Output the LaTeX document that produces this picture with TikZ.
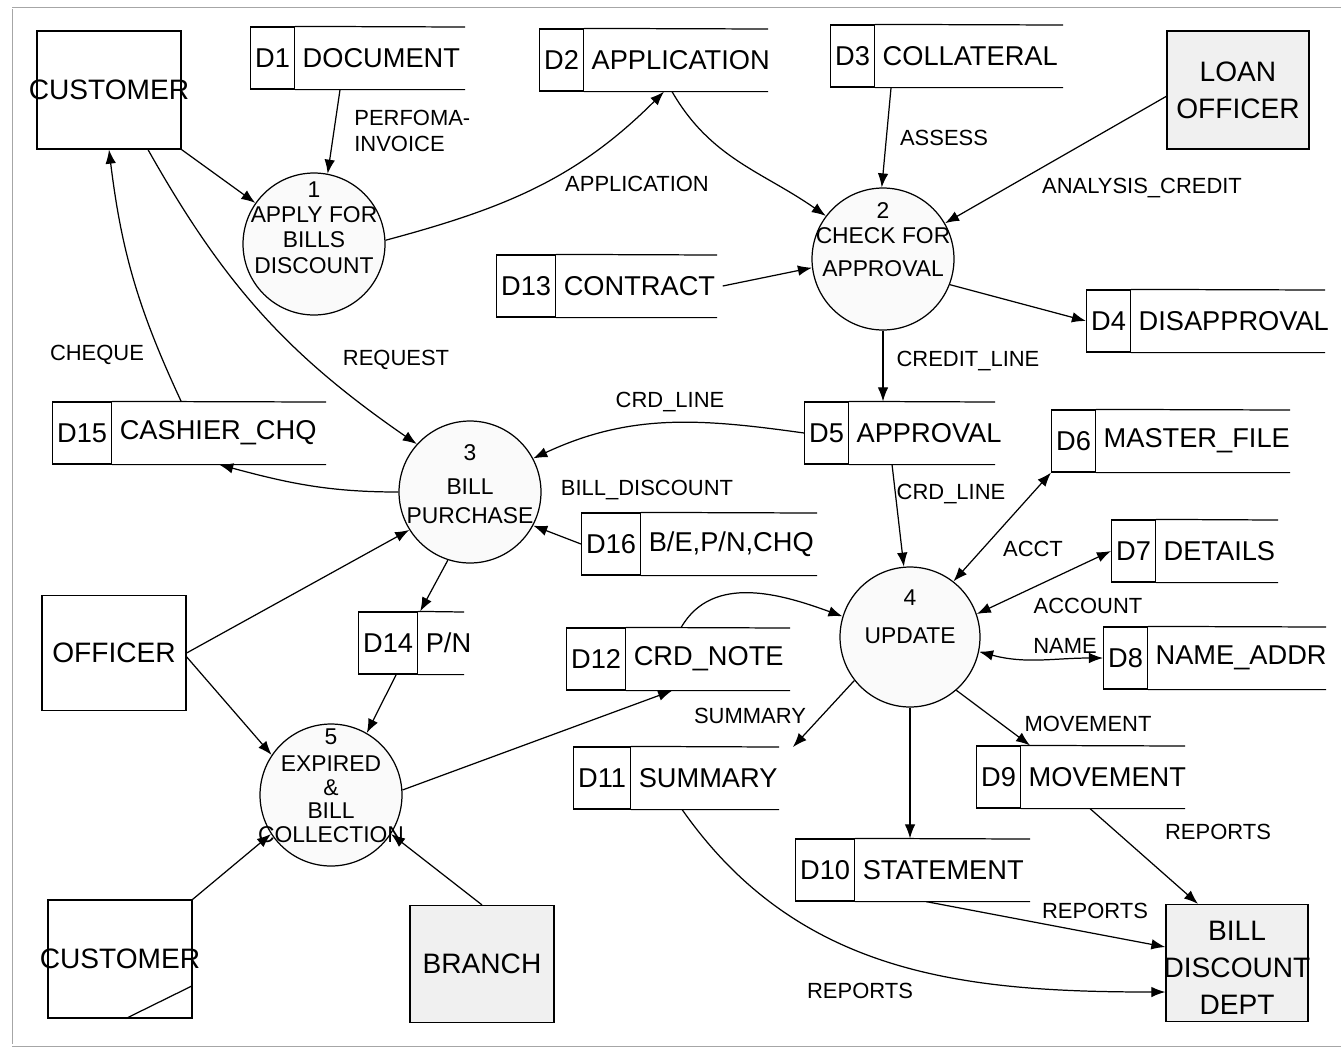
\documentclass[tikz,border=0pt]{standalone}
\usepackage{fontspec}
\setmainfont{Liberation Sans}
\usetikzlibrary{positioning}
\usetikzlibrary{arrows.meta}

% data store: name, left x, centre y, id, text, right end of the lines
\newcommand{\dstore}[6]{%
  \node [sid, anchor=west] (#1) at (#2,#3) {#4};
  \node [stxt, right=0pt of #1] (#1t) {#5};
  \coordinate (#1r) at (#6,#3-31);
  \draw (#1.north east) -- (#1r) (#1.south east) -- (#1.south east -| #1r);
}

\begin{document}
\begin{tikzpicture}[>={Latex[length=8pt,width=6pt]}, x=0.02cm, y=-0.02cm, line width=0.7pt]
    \tikzset{entity/.style= {draw, rectangle, minimum width=2.88cm, minimum height=2.36cm},
             grayfill/.style= {fill=gray!12},
             etext/.style= {align=center, font=\fontsize{16}{21}\selectfont},
             proc/.style= {draw, circle, minimum size=2.84cm, fill=gray!4},
             ptext/.style= {align=center, font=\fontsize{13}{14.5}\selectfont},
             sid/.style= {draw, rectangle, minimum height=1.24cm, inner xsep=0.09cm, inner ysep=0pt, font=\fontsize{15.5}{18}\selectfont},
             stxt/.style= {rectangle, minimum height=1.24cm, inner xsep=0.14cm, inner ysep=0pt, font=\fontsize{15.5}{18}\selectfont},
             lbl/.style= {inner sep=1pt, font=\fontsize{12.5}{14.5}\selectfont},
            }
    \useasboundingbox (0,0) rectangle (1341,1049);

    % page frame
    \draw[gray!70, line width=0.5pt] (12,7) -- (1341,7) (12,9) -- (12,1044) (12,1046) -- (1341,1046);

    % external entities
    \node [entity, label={[etext]center:CUSTOMER}] (cust1) at (109,90) {};
    \node [entity, grayfill, minimum width=2.84cm, label={[etext]center:{LOAN\\OFFICER}}] (loan) at (1238,90) {};
    \node [entity, minimum height=2.3cm, label={[etext]center:OFFICER}] (off) at (114,653) {};
    \node [entity, label={[etext]center:CUSTOMER}] (cust2) at (120,959) {};
    \draw ([xshift=-1.34cm]cust2.south east) -- ([yshift=0.66cm]cust2.south east);
    \node [entity, grayfill, minimum height=2.34cm, label={[etext]center:BRANCH}] (branch) at (482,964) {};
    \node [entity, grayfill, minimum width=2.84cm, minimum height=2.34cm, label={[etext, yshift=-0.09cm]center:{BILL\\DISCOUNT\\DEPT}}] (bdd) at (1237,963) {};

    % processes
    \node [proc, label={[ptext, yshift=0.33cm]center:{1\\APPLY FOR\\BILLS\\DISCOUNT}}] (p1) at (314,244) {};
    \node [proc, label={[ptext, yshift=0.39cm]center:{2\\CHECK FOR\\[4pt]APPROVAL}}] (p2) at (883,259) {};
    \node [proc, label={[ptext, yshift=0.16cm]center:{3\\[5pt]BILL\\[2pt]PURCHASE}}] (p3) at (470,492) {};
    \node [proc, minimum size=2.8cm, label={[ptext, yshift=0.41cm]center:{4\\[7pt]UPDATE}}] (p4) at (910,637) {};
    \node [proc, label={[ptext, yshift=0.19cm]center:{5\\[1pt]EXPIRED\\[-1pt]\&\\[-1pt]BILL\\[-1pt]COLLECTION}}] (p5) at (331,795) {};

    % data stores
    \dstore{d1}{250}{58}{D1}{DOCUMENT}{465}
    \dstore{d2}{539}{60}{D2}{APPLICATION}{768}
    \dstore{d3}{830}{56}{D3}{COLLATERAL}{1063}
    \dstore{d4}{1086}{321}{D4}{DISAPPROVAL}{1325}
    \dstore{d13}{496}{286}{D13}{CONTRACT}{717}
    \dstore{d15}{52}{433}{D15}{CASHIER\_CHQ}{326}
    \dstore{d5}{804}{433}{D5}{APPROVAL}{995}
    \dstore{d6}{1051}{441}{D6}{MASTER\_FILE}{1290}
    \dstore{d16}{581}{544}{D16}{B/E,P/N,CHQ}{817}
    \dstore{d7}{1111}{551}{D7}{DETAILS}{1278}
    \dstore{d14}{358}{643}{D14}{P/N}{464}
    \dstore{d12}{566}{659}{D12}{CRD\_NOTE}{790}
    \dstore{d8}{1103}{658}{D8}{NAME\_ADDR}{1326}
    \dstore{d11}{573}{778}{D11}{SUMMARY}{779}
    \dstore{d9}{976}{777}{D9}{MOVEMENT}{1185}
    \dstore{d10}{795}{870}{D10}{STATEMENT}{1030}

    % flow labels
    \node [lbl, align=left, anchor=west] (lperf) at (352,131) {PERFOMA-\\INVOICE};
    \node [lbl] (lapp) at (637,184) {APPLICATION};
    \node [lbl] (lass) at (944,138) {ASSESS};
    \node [lbl] (lana) at (1142,188) {ANALYSIS\_CREDIT};
    \node [lbl] (lchq) at (97,355) {CHEQUE};
    \node [lbl] (lreq) at (396,360) {REQUEST};
    \node [lbl] (lcl) at (968,361) {CREDIT\_LINE};
    \node [lbl] (lcrd1) at (670,402) {CRD\_LINE};
    \node [lbl] (lbd) at (647,490) {BILL\_DISCOUNT};
    \node [lbl] (lcrd2) at (951,494) {CRD\_LINE};
    \node [lbl] (lacct) at (1033,549) {ACCT};
    \node [lbl] (lacc) at (1088,606) {ACCOUNT};
    \node [lbl] (lname) at (1065,646) {NAME};
    \node [lbl] (lmov) at (1088,724) {MOVEMENT};
    \node [lbl] (lsum) at (750,716) {SUMMARY};
    \node [lbl] (lrep1) at (1218,832) {REPORTS};
    \node [lbl] (lrep2) at (1095,911) {REPORTS};
    \node [lbl] (lrep3) at (860,991) {REPORTS};

    \path[->]
                (cust1.south east) edge (p1.145)
                ([xshift=0.9cm]d1.south east) edge (p1.79)
                (p1.3) edge[out=15, in=225] ([xshift=1.6cm]d2.south east)
                ([xshift=1.76cm]d2.south east) edge[out=-60, in=145] (p2.143)
                ([xshift=0.32cm]d3.south east) edge (p2.91)
                (loan.185) edge (p2.30)
                (d13t.east) edge (p2.187)
                (p2.-21) edge (d4.west)
                (p2.south) edge (p2.south |- d5.north)
                (d5.west) edge[out=172, in=25] (p3.28)
                ([xshift=0.86cm]d5.south east) edge (p4.95)
                (d16.west) edge (p3.-28)
                (p3.west) edge[out=180, in=-15] ([xshift=2.14cm]d15.south east)
                ([xshift=1.38cm]d15.north east) edge[bend left=9] (cust1.south)
                ([xshift=0.78cm]cust1.south) edge[bend right=13] (p3.138)
                (off.east) edge (p3.212)
                (p3.252) edge ([xshift=0.04cm]d14.north east)
                (off.-3) edge (p5.146)
                ([xshift=-0.44cm]d14.south east) edge (p5.60)
                (cust2.north east) edge (p5.213)
                (branch.north) edge (p5.-33)
                (p5.4) edge ([xshift=0.92cm]d12.south east)
                ([xshift=1.1cm]d12.north east) edge[out=60, in=160] (p4.163)
                (p4.218) edge ([xshift=0.28cm]d11r)
                (p4.south) edge (p4.south |- d10.north)
                (p4.-49) edge ([xshift=0.18cm]d9.north east)
                ([xshift=1.38cm]d9.south east) edge ([xshift=-0.78cm]bdd.north)
                ([xshift=1.42cm]d10.south east) edge ([yshift=0.32cm]bdd.west)
                ([xshift=1.02cm]d11.south east) edge[out=-55, in=180] ([yshift=-0.58cm]bdd.west)
                ;

    \path[<->] (p4.52) edge (d6.south west);
    \path[<->] (p4.19) edge (d7.west);
    \path[<->] (p4.-12) edge[out=-15, in=180] (d8.west);
\end{tikzpicture}
\end{document}
